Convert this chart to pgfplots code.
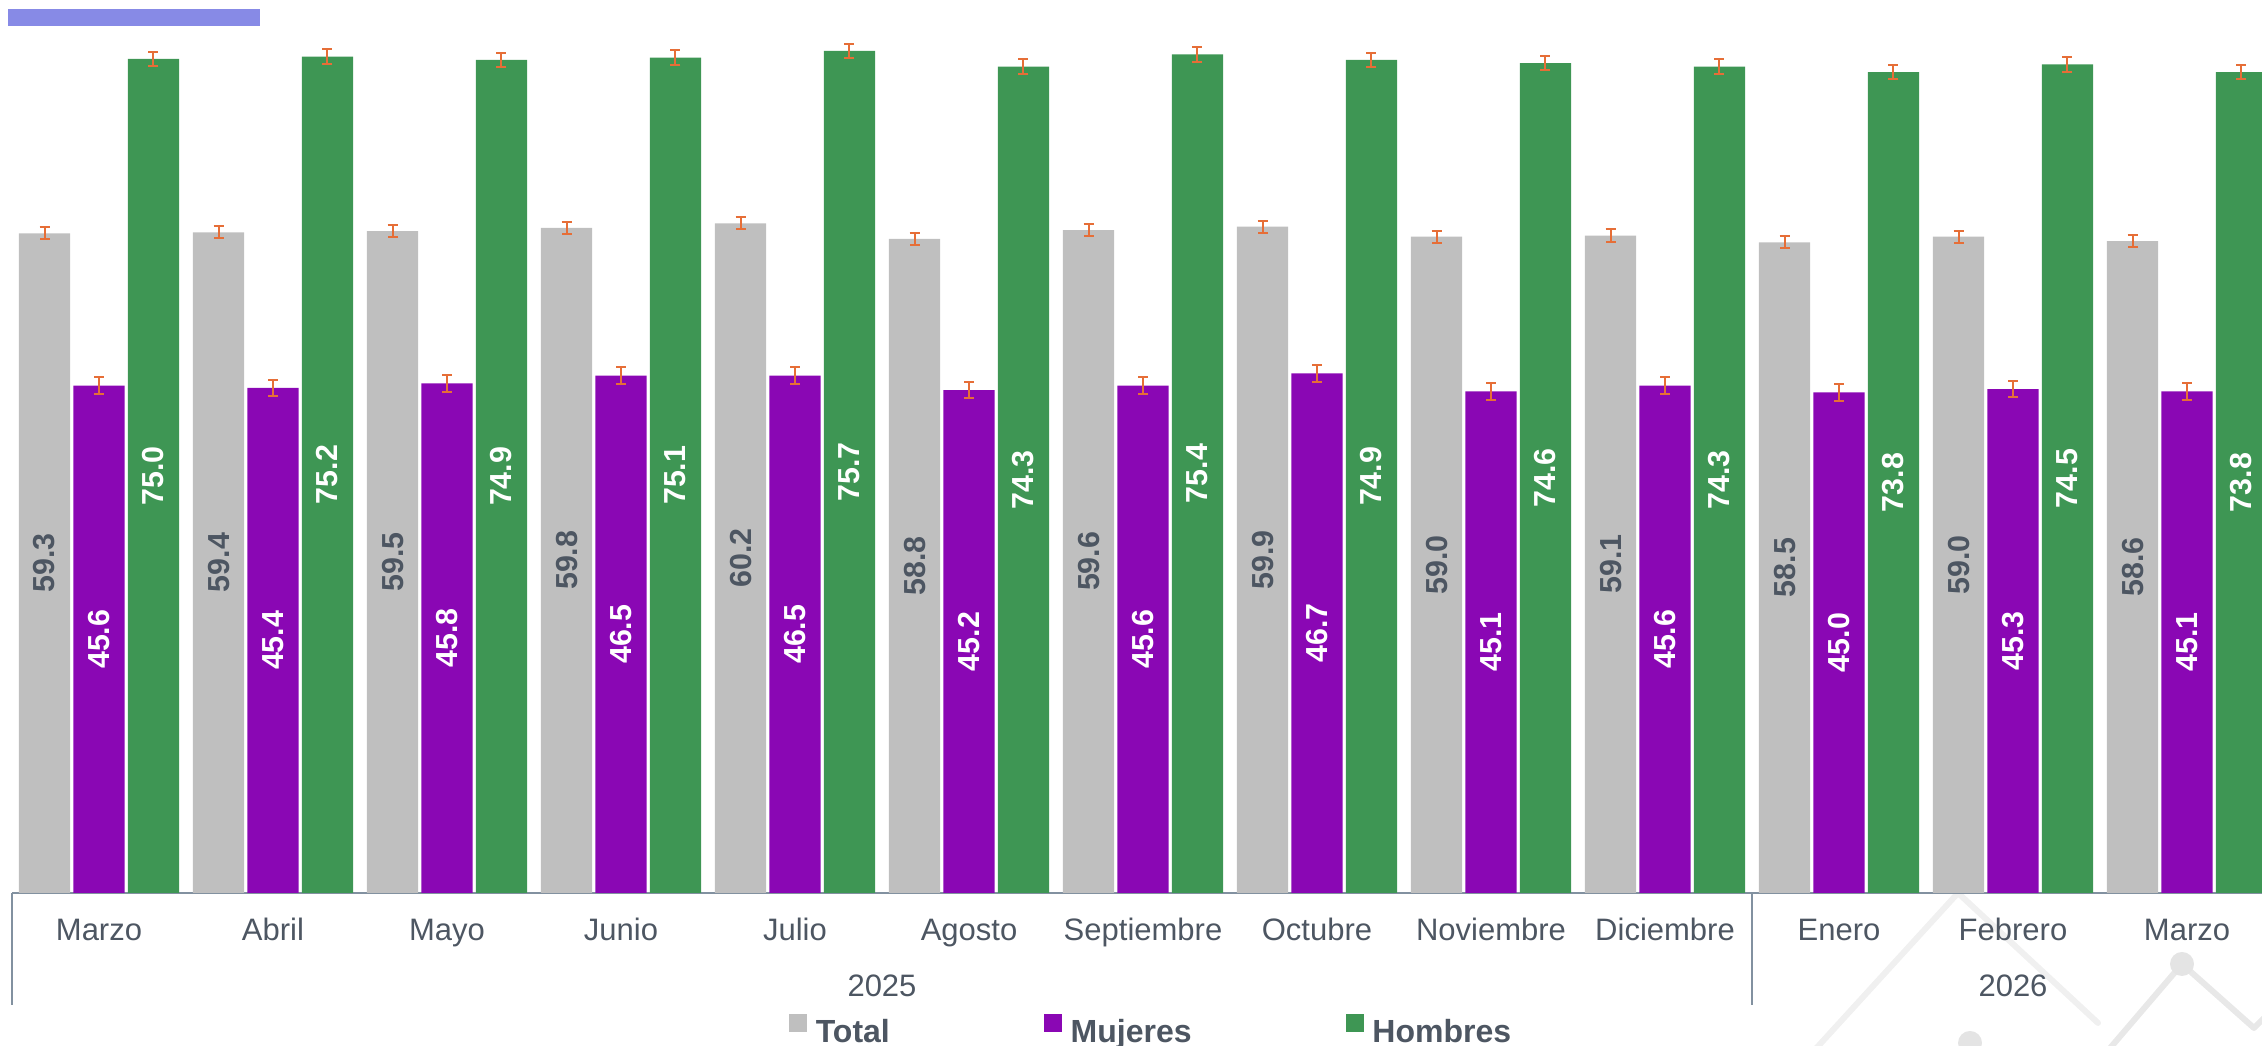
\documentclass[border=0pt]{standalone}
\usepackage{fontspec}
\setmainfont{Liberation Sans}
\usepackage{pgfplots}
\pgfplotsset{compat=1.18}
\usepackage{pgfplotstable}

\definecolor{cgray}{RGB}{191,191,191}
\definecolor{cpurp}{RGB}{138,7,180}
\definecolor{cgreen}{RGB}{62,150,84}
\definecolor{errc}{RGB}{230,110,55}
\definecolor{axisc}{RGB}{130,145,160}
\definecolor{labc}{RGB}{77,86,98}
\definecolor{topc}{RGB}{135,138,230}

\pgfplotstableread{
x t m h et em eh
0 59.3 45.6 75.0 0.55 0.75 0.65
1 59.4 45.4 75.2 0.55 0.75 0.65
2 59.5 45.8 74.9 0.55 0.75 0.65
3 59.8 46.5 75.1 0.55 0.75 0.65
4 60.2 46.5 75.7 0.55 0.75 0.65
5 58.8 45.2 74.3 0.55 0.75 0.65
6 59.6 45.6 75.4 0.55 0.75 0.65
7 59.9 46.7 74.9 0.55 0.75 0.65
8 59.0 45.1 74.6 0.55 0.75 0.65
9 59.1 45.6 74.3 0.55 0.75 0.65
10 58.5 45.0 73.8 0.55 0.75 0.65
11 59.0 45.3 74.5 0.55 0.75 0.65
12 58.6 45.1 73.8 0.55 0.75 0.65
}\datatable

\pgfplotsset{
  errstyle/.style={forget plot, draw=none, no markers,
    error bars/.cd, y dir=both, y explicit,
    error bar style={draw=errc, line width=0.5pt},
    error mark options={draw=errc, line width=0.5pt, rotate=90, mark size=1.25pt}},
  labstyle/.style={forget plot, draw=none, no markers, point meta=explicit symbolic,
    nodes near coords, nodes near coords style={rotate=90, anchor=center, inner sep=0pt,
    font=\bfseries\fontsize{7.6}{9}\selectfont, text=#1}},
}

\begin{document}
\begin{tikzpicture}
\useasboundingbox (0,0) rectangle (565.5pt,261.5pt);
% faint watermark
\draw[line width=1.5pt, line cap=round, line join=round, color={rgb,255:red,240;green,240;blue,240}] (452.75pt,-2pt) -- (489.5pt,38.25pt) -- (524.5pt,5.75pt);
\draw[line width=1.5pt, line cap=round, line join=round, color={rgb,255:red,232;green,232;blue,232}] (526.25pt,-2pt) -- (545.5pt,20.5pt) -- (563.5pt,4.5pt) -- (575pt,16pt);
\fill[color={rgb,255:red,228;green,228;blue,228}] (545.5pt,20.5pt) circle (3pt);
\fill[color={rgb,255:red,228;green,228;blue,228}] (492.5pt,0.75pt) circle (3pt);
% top-left bar
\fill[topc] (2pt,255pt) rectangle (65pt,259.25pt);
\begin{axis}[
  at={(3pt,38.3pt)}, anchor=south west,
  scale only axis, width=565.5pt, height=222.4pt,
  xmin=-0.5, xmax=12.5, ymin=0, ymax=80,
  axis x line=bottom, axis y line=none,
  x axis line style={-, draw=axisc, line width=0.6pt},
  xtick={0,...,12},
  xticklabels={Marzo,Abril,Mayo,Junio,Julio,Agosto,Septiembre,Octubre,Noviembre,Diciembre,Enero,Febrero,Marzo},
  major tick length=0pt,
  xticklabel style={anchor=base, yshift=-12pt, font=\fontsize{7.75}{9}\selectfont, text=labc},
  clip=false,
  legend columns=3,
  legend image code/.code={\fill[#1] (0pt,0.5pt) rectangle (4.5pt,5pt);},
  legend style={draw=none, fill=none, inner sep=0pt, outer sep=0pt,
    at={(axis description cs:0.3435,-0.1754)}, anchor=south west,
    font=\bfseries\fontsize{8}{9.6}\selectfont, text=labc,
    nodes={inner sep=0pt},
    /tikz/every odd column/.append style={column sep=2.2pt},
    /tikz/every even column/.append style={column sep=38.5pt}},
  legend cell align=left,
]
\addplot[ybar, bar width=0.295, bar shift=-0.313, fill=cgray, draw=none]
  table[x=x, y=t] {\datatable};
\addlegendentry{Total}
\addplot[ybar, bar width=0.295, bar shift=0, fill=cpurp, draw=none]
  table[x=x, y=m] {\datatable};
\addlegendentry{Mujeres}
\addplot[ybar, bar width=0.295, bar shift=0.313, fill=cgreen, draw=none]
  table[x=x, y=h] {\datatable};
\addlegendentry{Hombres}
% error bars
\addplot[errstyle] table[x expr=\thisrow{x}-0.313, y=t, y error=et] {\datatable};
\addplot[errstyle] table[x=x, y=m, y error=em] {\datatable};
\addplot[errstyle] table[x expr=\thisrow{x}+0.313, y=h, y error=eh] {\datatable};
% value labels centred in bars
\addplot[labstyle=labc] table[x expr=\thisrow{x}-0.313, y expr=\thisrow{t}/2, meta=t] {\datatable};
\addplot[labstyle=white] table[x=x, y expr=\thisrow{m}/2, meta=m] {\datatable};
\addplot[labstyle=white] table[x expr=\thisrow{x}+0.313, y expr=\thisrow{h}/2, meta=h] {\datatable};
% category group separators and year labels
\draw[axisc, line width=0.6pt] (axis cs:-0.5,0) -- ([yshift=-28pt]axis cs:-0.5,0);
\draw[axisc, line width=0.6pt] (axis cs:9.5,0) -- ([yshift=-28pt]axis cs:9.5,0);
\draw[axisc, line width=0.6pt] (axis cs:12.5,0) -- ([yshift=-28pt]axis cs:12.5,0);
\node[anchor=base, yshift=-26pt, font=\fontsize{7.75}{9}\selectfont, text=labc] at (axis cs:4.5,0) {2025};
\node[anchor=base, yshift=-26pt, font=\fontsize{7.75}{9}\selectfont, text=labc] at (axis cs:11,0) {2026};
\end{axis}
\end{tikzpicture}
\end{document}
